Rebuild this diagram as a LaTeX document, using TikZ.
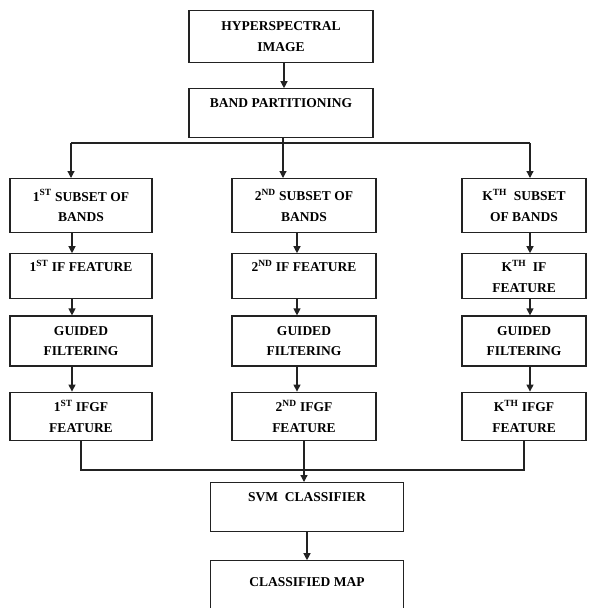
\documentclass[tikz,border=0pt]{standalone}
\usepackage{fontspec}
\setmainfont{Liberation Serif}
\usetikzlibrary{arrows.meta,positioning}
\definecolor{ink}{HTML}{222222}

\begin{document}
\begin{tikzpicture}[x=1pt,y=-1pt,
  bx/.style={draw=ink,line width=1.2pt,font=\fontsize{13.5}{20.5}\selectfont\bfseries,align=center,inner sep=3pt},
  ca/.style={bx,minimum width=142pt},
  cb/.style={bx,minimum width=144pt},
  cc/.style={bx,minimum width=124pt},
  ar/.style={-{Triangle[length=7pt,width=7pt]},ink,line width=1.2pt},
  ln/.style={ink,line width=1.2pt}]
  \useasboundingbox (0,0) rectangle (592,608);
  \node[bx,anchor=north,minimum width=184pt,minimum height=52pt] (hsi) at (281,10) {HYPERSPECTRAL\\IMAGE};
  \node[bx,below=25pt of hsi,minimum width=184pt,minimum height=49pt] (band) {BAND PARTITIONING\\\phantom{X}};
  % first column
  \node[ca,anchor=north,minimum height=54pt] (sub1) at (81,178) {1\textsuperscript{ST} SUBSET OF\\BANDS};
  \node[ca,below=20pt of sub1,minimum height=45pt] (if1) {1\textsuperscript{ST} IF FEATURE\\\phantom{X}};
  \node[ca,below=16pt of if1,minimum height=50pt] (gf1) {GUIDED\\FILTERING};
  \node[ca,below=25pt of gf1,minimum height=48pt] (ifgf1) {1\textsuperscript{ST} IFGF\\FEATURE};
  % second column
  \node[cb,anchor=north,minimum height=54pt] (sub2) at (304,178) {2\textsuperscript{ND} SUBSET OF\\BANDS};
  \node[cb,below=20pt of sub2,minimum height=45pt] (if2) {2\textsuperscript{ND} IF FEATURE\\\phantom{X}};
  \node[cb,below=16pt of if2,minimum height=50pt] (gf2) {GUIDED\\FILTERING};
  \node[cb,below=25pt of gf2,minimum height=48pt] (ifgf2) {2\textsuperscript{ND} IFGF\\FEATURE};
  % k-th column
  \node[cc,anchor=north,minimum height=54pt] (sub3) at (524,178) {K\textsuperscript{TH}\ \ SUBSET\\OF BANDS};
  \node[cc,below=20pt of sub3,minimum height=45pt] (if3) {K\textsuperscript{TH}\ \ IF\\FEATURE};
  \node[cc,below=16pt of if3,minimum height=50pt] (gf3) {GUIDED\\FILTERING};
  \node[cc,below=25pt of gf3,minimum height=48pt] (ifgf3) {K\textsuperscript{TH} IFGF\\FEATURE};
  % classifier
  \node[bx,anchor=north,minimum width=193pt,minimum height=49pt] (svm) at (307,482) {SVM\ \ CLASSIFIER\\\phantom{X}};
  \node[bx,below=28pt of svm,minimum width=193pt,minimum height=62pt] (map) {CLASSIFIED MAP\\\phantom{X}};
  \coordinate (sp) at (283,143);
  \coordinate (mg) at (304,470);
  \coordinate (t1) at ([xshift=-10pt]sub1.north);
  \coordinate (t3) at ([xshift=6pt]sub3.north);
  \draw[ar] ([xshift=3pt]hsi.south) -- ([xshift=3pt]band.north);
  \draw[ln] (band.south -| sp) -- (sp);
  \draw[ln] (sp -| t1) -- (sp -| t3);
  \draw[ar] (sp -| t1) -- (t1);
  \draw[ar] (sp) -- (sub2.north -| sp);
  \draw[ar] (sp -| t3) -- (t3);
  \draw[ar] ([xshift=-9pt]sub1.south) -- ([xshift=-9pt]if1.north);
  \draw[ar] ([xshift=-9pt]if1.south) -- ([xshift=-9pt]gf1.north);
  \draw[ar] ([xshift=-9pt]gf1.south) -- ([xshift=-9pt]ifgf1.north);
  \draw[ar] ([xshift=-7pt]sub2.south) -- ([xshift=-7pt]if2.north);
  \draw[ar] ([xshift=-7pt]if2.south) -- ([xshift=-7pt]gf2.north);
  \draw[ar] ([xshift=-7pt]gf2.south) -- ([xshift=-7pt]ifgf2.north);
  \draw[ar] ([xshift=6pt]sub3.south) -- ([xshift=6pt]if3.north);
  \draw[ar] ([xshift=6pt]if3.south) -- ([xshift=6pt]gf3.north);
  \draw[ar] ([xshift=6pt]gf3.south) -- ([xshift=6pt]ifgf3.north);
  \draw[ln] (ifgf1.south) |- (mg) -| (ifgf3.south);
  \draw[ar] (ifgf2.south) -- (ifgf2.south |- svm.north);
  \draw[ar] (svm.south) -- (map.north);
\end{tikzpicture}
\end{document}
